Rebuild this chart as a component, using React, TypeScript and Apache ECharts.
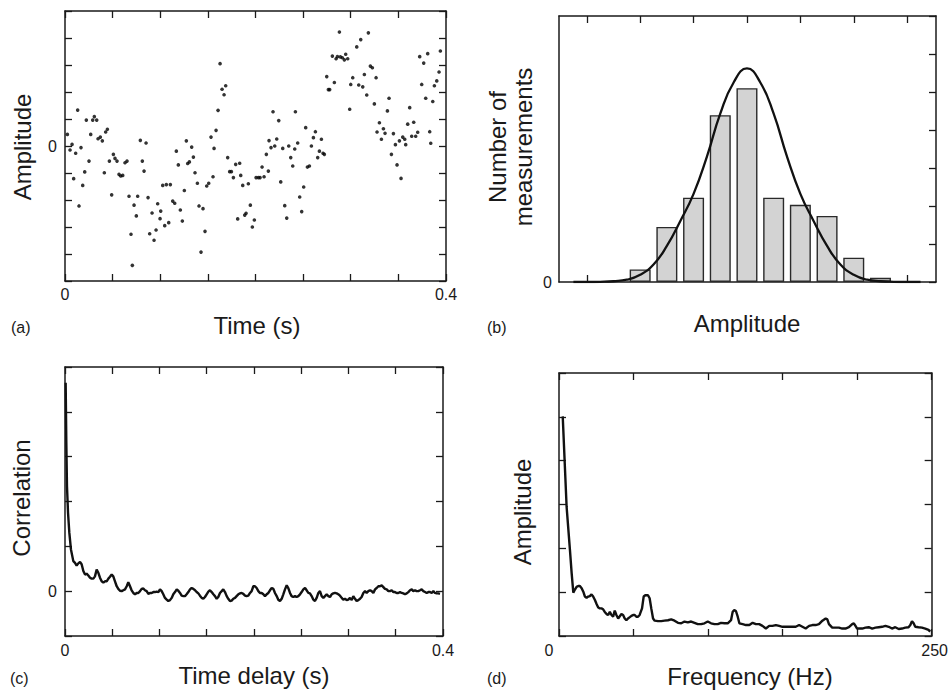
import React, { useEffect, useRef } from "react";
import * as echarts from "echarts";

// ---------- (a) raw signal: time (s) vs amplitude ----------
const scatterTime = [
  0.0025, 0.0053, 0.0074, 0.0091, 0.0112, 0.0133, 0.0147, 0.0168, 0.0186, 0.0207, 0.0224, 0.0252, 0.027, 0.0291,
  0.0308, 0.0333, 0.0347, 0.0371, 0.0392, 0.0413, 0.0427, 0.0445, 0.0466, 0.049, 0.0508, 0.0525, 0.0546, 0.0567,
  0.0585, 0.0606, 0.063, 0.0651, 0.0672, 0.0693, 0.0707, 0.0725, 0.0749, 0.0763, 0.0791, 0.0812, 0.083, 0.0851,
  0.0872, 0.0889, 0.0914, 0.0935, 0.0956, 0.0973, 0.0998, 0.1005, 0.1026, 0.1047, 0.1064, 0.1089, 0.1106, 0.1131,
  0.1152, 0.1169, 0.119, 0.1211, 0.1232, 0.1253, 0.1274, 0.1288, 0.1306, 0.133, 0.1348, 0.1365,
  0.139, 0.1407, 0.1428, 0.1449, 0.147, 0.1488, 0.1509, 0.1533, 0.1554, 0.1565, 0.1586, 0.1607, 0.1628, 0.1649,
  0.167, 0.1687, 0.1708, 0.1729, 0.1747, 0.1768, 0.1792, 0.1813, 0.1834, 0.1845, 0.1866, 0.1887, 0.1901, 0.1925,
  0.1946, 0.1967, 0.1988, 0.2006, 0.203, 0.2048, 0.2069, 0.209, 0.2114, 0.2135, 0.2142, 0.2163, 0.2184, 0.2202,
  0.2223, 0.2244, 0.2265, 0.2286, 0.2307, 0.2328, 0.2349, 0.237, 0.2391, 0.2412, 0.2419, 0.2443, 0.2464, 0.2485,
  0.2506, 0.2527, 0.2545, 0.2566, 0.2587, 0.2608, 0.2629, 0.2653,
  0.2671, 0.2692, 0.2709, 0.2723, 0.2748, 0.2765, 0.2779, 0.2807, 0.2828, 0.2846, 0.286, 0.2881, 0.2891, 0.2912,
  0.2933, 0.2947, 0.2968, 0.2989, 0.3, 0.3021, 0.3063, 0.3084, 0.3105, 0.3126, 0.3143, 0.3168, 0.3185, 0.3206,
  0.3227, 0.3248, 0.3266, 0.3276, 0.3301, 0.3322, 0.3343, 0.336, 0.3385, 0.3402, 0.3427, 0.3448, 0.3469, 0.3486,
  0.3511, 0.3528, 0.3546, 0.3567, 0.3577, 0.3598, 0.3619, 0.364, 0.3661, 0.3682, 0.3703, 0.3724, 0.3745, 0.3766,
  0.3787, 0.3808, 0.3829, 0.384, 0.3861, 0.3878, 0.3903, 0.3927, 0.3941,
];
const scatterAmp = [
  0.43, -0.15, 0.06, -1.21, -0.27, 1.33, -2.22, -0.06, -1.46, -0.96, 0.96, -0.56, 0.43, 0.96,
  1.09, 0.96, 0.27, 0.33, 0.19, -0.99, 0.52, 0.62, -0.56, -1.81, -0.31, -0.46, -0.56, -1.05,
  -1.11, -1.09, -0.62, -0.56, -1.86, -3.27, -4.42, -2.19, -2.59, -1.86, 0.21, -0.56, -0.93, 0.11,
  -1.91, -3.25, -2.48, -3.49, -3.11, -2.14, -2.69, -2.41, -1.46, -2.95, -1.43, -2.84, -1.43, -2.04,
  -2.12, -0.19, -0.7, -2.37, -2.78, -1.65, 0.19, -0.65, -0.59, -0.04, -0.41, -0.99,
  -1.38, -2.22, -3.93, -2.32, -3.16, -1.48, -1.38, 0.33, -1.14, -0.09, 0.58, 1.32, 3.05, 2.1,
  1.9, 2.23, -0.43, -0.95, -0.95, -1.17, -0.68, -2.7, -0.64, -1.09, -1.46, -2.56, -2.49, -1.4,
  -2.19, -3.0, -2.74, -1.17, -1.17, -1.17, -0.78, -1.14, -0.31, -0.93, 0.2, -0.06, 1.27, 0.0,
  0.26, 0.94, -1.33, -0.09, -2.21, -2.67, 0.0, -0.43, -0.74, -0.11, 1.27, 0.11, -1.89, -2.43,
  -1.52, 0.68, -0.78, -0.74, 0.0, 0.31, 0.53, -0.43,
  -0.19, 0.25, -0.27, -0.31, 2.57, 2.09, 2.09, 3.33, 2.35, 3.23, 3.31, 4.22, 3.3, 3.27,
  3.19, 3.4, 3.23, 1.36, 2.28, 2.53, 3.67, 2.26, 3.94, 2.19, 2.65, 1.89, 4.19, 2.96,
  2.9, 1.56, 2.53, 0.52, 0.86, 0.25, 0.64, 0.47, 1.3, 1.77, -0.31, 0.46, 0.05, -0.7,
  0.19, -1.2, 0.33, 0.25, 0.05, 0.81, 1.42, 0.36, 0.88, 0.36, 0.51, 3.31, 2.28, 3.07,
  1.77, 3.42, 0.53, 0.1, 1.65, 2.23, 2.41, 2.74, 3.52,
];

// ---------- (b) histogram of amplitudes with fitted curve ----------
const histCenters = [1.0, 1.5, 2.0, 2.5, 3.0, 3.5, 4.0, 4.5, 5.0, 5.5];
const histCounts = [0.33, 1.45, 2.22, 4.39, 5.1, 2.22, 2.03, 1.74, 0.64, 0.11];
const fitX = [
  -0.25, 0, 0.25, 0.5, 0.75, 1.0, 1.25, 1.5, 1.75, 2.0, 2.25, 2.5, 2.75, 3.0,
  3.25, 3.5, 3.75, 4.0, 4.25, 4.5, 4.75, 5.0, 5.25, 5.5, 5.75, 6.0, 6.25,
];
const fitY = [
  0, 0, 0.005, 0.02, 0.06, 0.19, 0.46, 0.95, 1.6, 2.32, 3.3, 4.43, 5.25, 5.62,
  5.25, 4.43, 3.3, 2.32, 1.6, 0.95, 0.46, 0.19, 0.06, 0.02, 0.005, 0, 0,
];

// ---------- (c) autocorrelation ----------
const corrDelay = [
  0.0007, 0.0014, 0.0021, 0.0032, 0.0046, 0.0063,
  0.0088, 0.0106, 0.0123, 0.0141, 0.0159, 0.0176, 0.0194, 0.0212, 0.0229, 0.0247, 0.0265, 0.0282, 0.03, 0.0317,
  0.0335, 0.0353, 0.037, 0.0388, 0.0406, 0.0423, 0.0441, 0.0459, 0.0476, 0.0494, 0.0511, 0.0529, 0.0547, 0.0564,
  0.0582, 0.06, 0.0617, 0.0635, 0.0653, 0.067, 0.0688, 0.0705, 0.0723, 0.0741, 0.0758, 0.0776, 0.0794, 0.0811,
  0.0829, 0.0846, 0.0864, 0.0882, 0.0899, 0.0917, 0.0935, 0.0952, 0.097, 0.0988, 0.1005, 0.1023, 0.104, 0.1058,
  0.1076, 0.1093, 0.1111, 0.1129, 0.1146, 0.1164, 0.1182, 0.1199, 0.1217, 0.1234, 0.1252, 0.127, 0.1287, 0.1305,
  0.1323, 0.134, 0.1358, 0.1376, 0.1393, 0.1411, 0.1428, 0.1446, 0.1464, 0.1481, 0.1499, 0.1517, 0.1534, 0.1552,
  0.157, 0.1587, 0.1605, 0.1622, 0.164, 0.1658, 0.1675, 0.1693, 0.1711, 0.1728, 0.1746, 0.1764, 0.1781, 0.1799,
  0.1816, 0.1834, 0.1852, 0.1869, 0.1887, 0.1905, 0.1922, 0.194, 0.1958, 0.1975, 0.1993,
  0.201, 0.2028, 0.2046, 0.2063, 0.2081, 0.2099, 0.2116, 0.2134, 0.2152, 0.2169, 0.2187, 0.2205, 0.2222, 0.224,
  0.2257, 0.2275, 0.2293, 0.231, 0.2328, 0.2346, 0.2363, 0.2381, 0.2398, 0.2416, 0.2434, 0.2451, 0.2469, 0.2487,
  0.2504, 0.2522, 0.254, 0.2557, 0.2575, 0.2592, 0.261, 0.2628, 0.2645, 0.2663, 0.2681, 0.2698, 0.2716, 0.2734,
  0.2751, 0.2769, 0.2787, 0.2804, 0.2822, 0.2839, 0.2857, 0.2875, 0.2892, 0.291, 0.2928, 0.2945, 0.2963, 0.2981,
  0.2998, 0.3016, 0.3034, 0.3051, 0.3069, 0.3086, 0.3104, 0.3122, 0.3139, 0.3157, 0.3175, 0.3192, 0.321, 0.3228,
  0.3245, 0.3263, 0.3281, 0.3298, 0.3316, 0.3333, 0.3351, 0.3369, 0.3386, 0.3404, 0.3422, 0.3439, 0.3457, 0.3475,
  0.3492, 0.351, 0.3527, 0.3545, 0.3563, 0.358, 0.3598, 0.3616, 0.3633, 0.3651, 0.3669, 0.3686, 0.3704, 0.3721,
  0.3739, 0.3757, 0.3774, 0.3792, 0.381, 0.3827, 0.3845, 0.3863, 0.388, 0.3898, 0.3915, 0.3933, 0.3951, 0.3968,
];
const corrValue = [
  4.65, 3.31, 2.34, 1.75, 1.3, 0.93,
  0.67, 0.63, 0.57, 0.62, 0.65, 0.6, 0.45, 0.37, 0.39, 0.35, 0.3, 0.28, 0.28, 0.33,
  0.48, 0.41, 0.3, 0.22, 0.19, 0.22, 0.22, 0.28, 0.32, 0.37, 0.33, 0.22, 0.11, 0.05,
  0.01, 0.0, 0.02, 0.04, 0.11, 0.2, 0.11, 0.02, -0.04, -0.07, -0.04, -0.04, 0.0, 0.05,
  0.06, 0.02, 0.0, -0.06, -0.04, -0.04, -0.02, -0.02, -0.01, -0.02, 0.04, 0.0, -0.07, -0.15,
  -0.19, -0.22, -0.2, -0.15, -0.07, -0.02, 0.04, 0.01, -0.04, -0.1, -0.11, -0.11, -0.07, -0.02,
  0.04, 0.07, 0.05, 0.02, -0.02, -0.05, -0.1, -0.15, -0.17, -0.13, -0.07, -0.01, 0.02, -0.02,
  -0.07, -0.11, -0.17, -0.13, -0.04, 0.0, 0.04, -0.02, -0.11, -0.17, -0.22, -0.21, -0.17, -0.15,
  -0.11, -0.07, -0.05, -0.04, -0.06, -0.1, -0.11, -0.1, -0.04, 0.0, 0.11,
  0.11, 0.07, 0.0, -0.04, -0.04, -0.07, -0.11, -0.07, -0.04, 0.02, 0.07, 0.05, -0.04, -0.11,
  -0.19, -0.22, -0.17, -0.07, 0.04, 0.13, 0.07, -0.04, -0.11, -0.13, -0.11, -0.13, -0.11, -0.07,
  -0.02, 0.04, 0.07, 0.02, -0.04, -0.05, -0.11, -0.19, -0.22, -0.15, -0.04, 0.0, -0.11, -0.15,
  -0.11, -0.07, -0.11, -0.13, -0.07, -0.05, -0.04, -0.05, -0.07, -0.1, -0.15, -0.19, -0.17, -0.2,
  -0.19, -0.15, -0.2, -0.11, -0.17, -0.22, -0.2, -0.17, -0.13, -0.04, 0.0, -0.04, 0.0, 0.02,
  0.0, -0.04, 0.04, 0.07, 0.11, 0.11, 0.13, 0.09, 0.05, 0.04, 0.0, 0.0, 0.02, -0.02,
  -0.02, -0.04, -0.04, -0.02, -0.04, -0.05, -0.07, -0.05, -0.02, 0.02, 0.04, 0.0, 0.02, 0.0,
  0.0, 0.02, 0.04, 0.0, -0.02, -0.04, -0.02, -0.02, -0.04, 0.0, -0.04, -0.05, -0.05, -0.06,
];

// ---------- (d) spectrum ----------
const freqHz = [
  2.5, 5.1, 7.35, 8.5, 9.6, 10.7, 11.8, 12.9, 14.0, 15.2, 16.3, 17.4, 18.5, 19.6, 20.7, 21.8, 22.9, 24.1, 25.2,
  26.3, 27.4, 28.5, 29.6, 30.7, 31.9, 33.0, 34.1, 35.2, 36.3, 37.4, 38.5, 39.7, 40.8, 41.9, 43.0, 44.1, 45.2,
  46.3, 47.5, 48.6, 49.7, 50.8, 51.9, 53.0, 54.1, 55.7, 56.8, 57.9, 59.7, 60.8, 61.9, 63.1, 64.2, 66.4, 68.6,
  70.8, 73.1, 75.3, 77.5, 79.8, 82.0, 84.2, 86.4, 88.7, 90.9, 93.1, 95.4, 97.6, 99.8, 102.0, 104.3, 106.5,
  108.7, 111.0, 113.2, 115.4, 116.5, 117.6, 118.7, 119.9, 121.0, 123.2, 125.4, 127.7, 129.9, 132.1, 134.3,
  136.5, 138.8, 141.0, 143.2, 145.5, 147.7, 149.9, 152.2, 154.4, 156.6, 158.8, 161.1, 163.3, 165.5, 167.8,
  170.0, 172.2, 174.4, 176.7, 178.9, 180.0, 181.1, 183.3, 185.6, 187.8, 190.0, 192.2, 194.5, 196.7, 197.8,
  198.9, 200.0, 201.2, 203.4, 205.6, 207.8, 210.1, 212.3, 214.5, 216.7, 219.0, 221.2, 223.4, 225.6, 227.9,
  230.1, 232.3, 234.5, 235.7, 236.8, 237.9, 239.0, 241.2, 243.5, 245.7, 247.9, 249.0,
];
const freqAmp = [
  5.01, 2.95, 1.96, 1.43, 0.99, 1.06, 1.12, 1.14, 1.14, 1.09, 1.01, 0.9, 0.87, 0.9, 0.91, 0.95, 0.9, 0.82, 0.73,
  0.65, 0.63, 0.63, 0.61, 0.55, 0.5, 0.48, 0.55, 0.48, 0.44, 0.58, 0.48, 0.4, 0.45, 0.5, 0.48, 0.4, 0.36,
  0.4, 0.43, 0.46, 0.48, 0.48, 0.44, 0.44, 0.48, 0.63, 0.9, 0.93, 0.93, 0.86, 0.63, 0.4, 0.35, 0.34, 0.34,
  0.35, 0.36, 0.38, 0.35, 0.3, 0.29, 0.33, 0.31, 0.33, 0.3, 0.27, 0.27, 0.29, 0.33, 0.29, 0.27, 0.27,
  0.3, 0.29, 0.29, 0.36, 0.55, 0.59, 0.57, 0.44, 0.29, 0.27, 0.25, 0.25, 0.3, 0.27, 0.27,
  0.23, 0.17, 0.23, 0.23, 0.25, 0.23, 0.21, 0.21, 0.21, 0.21, 0.21, 0.25, 0.21, 0.17, 0.23,
  0.25, 0.25, 0.27, 0.35, 0.4, 0.38, 0.27, 0.19, 0.19, 0.19, 0.17, 0.17, 0.2, 0.27, 0.29,
  0.23, 0.17, 0.17, 0.17, 0.19, 0.2, 0.17, 0.19, 0.2, 0.21, 0.23, 0.21, 0.17, 0.2, 0.16,
  0.17, 0.19, 0.2, 0.25, 0.34, 0.29, 0.21, 0.2, 0.19, 0.17, 0.14, 0.1,
];

const FONT = "'Liberation Sans', Arial, Helvetica, sans-serif";
const INK = "#1a1a1a";

const zip = (xs: number[], ys: number[]) => xs.map((x, i) => [x, ys[i]]);
const near = (a: number, b: number) => Math.abs(a - b) < 1e-9;

const axisLine = { show: true, onZero: false, lineStyle: { color: INK, width: 1.5 } };
const tickStyle = { show: true, inside: true, length: 7, lineStyle: { color: INK, width: 1.3 } };
const labelBase = { color: INK, fontSize: 16, fontFamily: FONT, showMinLabel: true, showMaxLabel: true };

function xPair(gridIndex: number, scale: any, label: any, customTicks?: number[]) {
  const tick = customTicks ? { ...tickStyle, customValues: customTicks } : tickStyle;
  return [
    { type: "value", gridIndex, position: "bottom", ...scale, axisLine, axisTick: tick, axisLabel: label, splitLine: { show: false } },
    { type: "value", gridIndex, position: "top", ...scale, axisLine, axisTick: tick, axisLabel: { show: false }, splitLine: { show: false } },
  ];
}
function yPair(gridIndex: number, scale: any, label: any, leftTicks = true) {
  return [
    { type: "value", gridIndex, position: "left", ...scale, axisLine, axisTick: leftTicks ? tickStyle : { show: false }, axisLabel: label, splitLine: { show: false } },
    { type: "value", gridIndex, position: "right", ...scale, axisLine, axisTick: tickStyle, axisLabel: { show: false }, splitLine: { show: false } },
  ];
}

const zeroOnly = (v: number) => (near(v, 0) ? "0" : "");
const zeroAndPointFour = (v: number) => (near(v, 0) ? "0" : near(v, 0.4) ? "0.4" : "");

function title(text: string, x: number, y: number, rotate = false, size = 24) {
  return {
    type: "text",
    x,
    y,
    rotation: rotate ? Math.PI / 2 : 0,
    style: { text, fill: INK, fontSize: size, fontFamily: FONT, align: "center", verticalAlign: "middle", lineHeight: 26 },
  };
}
function tag(text: string, x: number, y: number) {
  return {
    type: "text",
    x,
    y,
    style: { text, fill: INK, fontSize: 16, fontFamily: FONT, align: "left", verticalAlign: "middle" },
  };
}

export default function App() {
  const ref = useRef<HTMLDivElement>(null);
  useEffect(() => {
    const chart = echarts.init(ref.current!, null, { renderer: "svg" });
    const option: any = {
      animation: false,
      backgroundColor: "#ffffff",
      grid: [
        { left: 65, top: 11, width: 381, height: 270 },
        { left: 559, top: 16, width: 377, height: 266 },
        { left: 65, top: 367, width: 378, height: 269 },
        { left: 559, top: 373, width: 374, height: 263 },
      ],
      xAxis: [
        ...xPair(0, { min: 0, max: 0.4, interval: 0.05 }, { ...labelBase, margin: 5, formatter: zeroAndPointFour }),
        ...xPair(1, { min: -0.52, max: 6.54 }, { show: false }, [0, 1, 2, 3, 4, 5, 6]),
        ...xPair(2, { min: 0, max: 0.4, interval: 0.05 }, { ...labelBase, margin: 6, formatter: zeroAndPointFour }),
        ...xPair(3, { min: 0, max: 250, interval: 50 }, {
          ...labelBase,
          margin: 6,
          formatter: (v: number) => (near(v, 0) ? "{z|0}" : near(v, 250) ? "{e|250}" : ""),
          rich: {
            z: { fontSize: 16, fontFamily: FONT, color: INK, padding: [0, 20, 0, 0] },
            e: { fontSize: 16, fontFamily: FONT, color: INK, padding: [0, 0, 0, 6] },
          },
        }),
      ],
      yAxis: [
        ...yPair(0, { min: -5, max: 5, interval: 1 }, { ...labelBase, margin: 8, formatter: zeroOnly }),
        ...yPair(1, { min: 0, max: 7, interval: 1 }, { ...labelBase, margin: 7, formatter: zeroOnly }, false),
        ...yPair(2, { min: -1, max: 5, interval: 1 }, { ...labelBase, margin: 8, formatter: zeroOnly }),
        ...yPair(3, { min: 0, max: 6, interval: 1 }, { show: false }),
      ],
      series: [
        {
          type: "scatter",
          xAxisIndex: 0,
          yAxisIndex: 0,
          data: zip(scatterTime, scatterAmp),
          symbol: "circle",
          symbolSize: 3.6,
          itemStyle: { color: "#000" },
        },
        {
          type: "bar",
          xAxisIndex: 2,
          yAxisIndex: 2,
          data: zip(histCenters, histCounts),
          barWidth: 21,
          itemStyle: { color: "#d3d3d3", borderColor: "#2a2a2a", borderWidth: 1.4 },
        },
        {
          type: "line",
          xAxisIndex: 2,
          yAxisIndex: 2,
          data: zip(fitX, fitY),
          smooth: true,
          showSymbol: false,
          lineStyle: { color: "#111", width: 2.3 },
        },
        {
          type: "line",
          xAxisIndex: 4,
          yAxisIndex: 4,
          data: zip(corrDelay, corrValue),
          showSymbol: false,
          lineStyle: { color: "#111", width: 2.4 },
        },
        {
          type: "line",
          xAxisIndex: 6,
          yAxisIndex: 6,
          data: zip(freqHz, freqAmp),
          showSymbol: false,
          lineStyle: { color: "#111", width: 2.4 },
        },
      ],
      graphic: [
        title("Amplitude", 22, 147, true),
        title("Time (s)", 257, 325),
        tag("(a)", 11, 327),
        title("Number of\nmeasurements", 510, 147, true),
        title("Amplitude", 747, 323),
        tag("(b)", 487, 327),
        title("Correlation", 21, 498, true),
        title("Time delay (s)", 254, 675),
        tag("(c)", 10, 678),
        title("Amplitude", 522, 512, true),
        title("Frequency (Hz)", 750, 676),
        tag("(d)", 487, 678),
      ],
    };
    chart.setOption(option);
    return () => chart.dispose();
  }, []);
  return (
    <div
      ref={ref}
      style={{ position: "absolute", left: 0, top: 0, width: 951, height: 693, background: "#fff" }}
    />
  );
}
